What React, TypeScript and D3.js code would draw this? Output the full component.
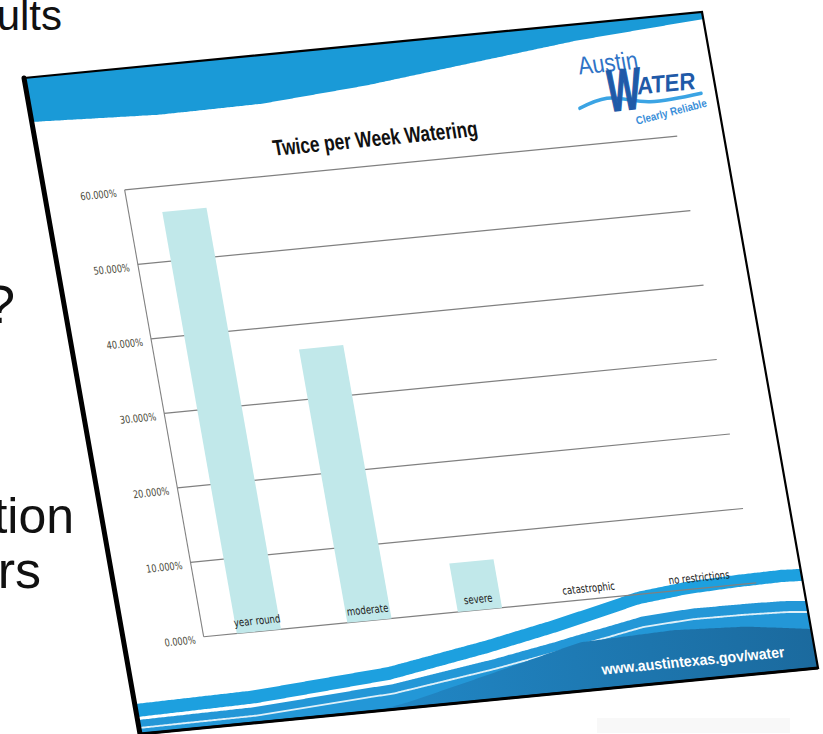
import React from 'react';
import * as d3 from 'd3';

// ---- chart data ----
const categories = ['year round', 'moderate', 'severe', 'catastrophic', 'no restrictions'];
const shares = [56.6, 36.7, 6.5, 0, 0];
const yTickValues = [0, 10, 20, 30, 40, 50, 60];
const chartTitle = 'Twice per Week Watering';
const siteUrl = 'www.austintexas.gov/water';

// ---- slide decoration outlines (slide-local units) ----
const topWaveX = [0, 161, 297, 434, 572, 711, 875];
const topWaveY = [44, 49, 48, 40, 28, 16, 7];
const waveX = [0, 154, 329, 461, 550, 617, 662, 728, 793, 849, 875];
const waveY = [626, 624, 614, 597, 583.5, 572, 564, 558.6, 556.7, 556, 557];
const gapX = [0, 300, 579, 700, 875];
const gapY = [16, 17, 22, 26, 32];
const darkX = [0, 200, 350, 450, 579, 700, 794, 875];
const darkY = [700, 670, 650, 632, 608, 605, 608.5, 617];
const swooshX = [698, 735, 789, 856];
const swooshY = [83, 75.7, 83.2, 79.8];

const SW = 875;
const SH = 656;
const MAT = [0.77486, -0.07543, 0.17683, 1, 24, 78];
const toScreen = (x: number, y: number) => [MAT[0] * x + MAT[2] * y + MAT[4], MAT[1] * x + MAT[3] * y + MAT[5]];

const PL = 102.6, PR = 815.7, PT = 119.6, PB = 566.5;

export default function App() {
  const x = d3.scaleBand<string>().domain(categories).range([PL, PR]).paddingInner(0.6).paddingOuter(0.3);
  const y = d3.scaleLinear().domain([0, 60]).range([PB, PT]);
  const fmt = (v: number) => d3.format('.3f')(v) + '%';

  const pw = (xs: number[], ys: number[]) => d3.scaleLinear().domain(xs).range(ys).clamp(true);
  const t1 = pw(waveX, waveY);
  const offA = pw([0, SW], [13, 12]);
  const gap = pw(gapX, gapY);
  const lineOff = pw([0, SW], [8, 11]);
  const dark = pw(darkX, darkY);
  const tw = pw(topWaveX, topWaveY);
  const xs = d3.range(-12, SW + 16, 4);

  const areaDown = (f: (v: number) => number) =>
    d3.area<number>().x(d => d).y0(d => f(d)).y1(SH + 30).curve(d3.curveBasis)(xs) || '';
  const topArea = d3.area<number>().x(d => d).y0(-10).y1(d => tw(d)).curve(d3.curveBasis)(xs) || '';
  const whiteLine = d3.line<number>().x(d => d).y(d => t1(d) + gap(d) + lineOff(d)).curve(d3.curveBasis)(xs) || '';
  const swoosh = d3.line<number>().x(d => d[0]).y(d => d[1]).curve(d3.curveCatmullRom)(
    swooshX.map((v, i) => [v, swooshY[i]]) as any) || '';

  const TL = toScreen(0, 0), TR = toScreen(SW, 0), BR = toScreen(SW, SH), BL = toScreen(0, SH);

  return (
    <svg width={823} height={734} style={{ position: 'absolute', left: 0, top: 0, background: '#fff' }}
      fontFamily="'Liberation Sans', Arial, sans-serif">
      <defs>
        <clipPath id="slideClip"><rect x={0} y={0} width={SW} height={SH} /></clipPath>
        <linearGradient id="darkGrad" gradientUnits="userSpaceOnUse" x1={150} y1={0} x2={875} y2={0}>
          <stop offset="0" stopColor="#2290d2" />
          <stop offset="1" stopColor="#1b6a9e" />
        </linearGradient>
      </defs>

      {/* background slide text */}
      <g fill="#111" fontFamily="'Liberation Sans', Arial, sans-serif">
        <text x={62} y={30} fontSize={42} textAnchor="end">ults</text>
        <text x={15} y={323} fontSize={54} textAnchor="end">?</text>
        <text x={74} y={533} fontSize={50} textAnchor="end">tion</text>
        <text x={41} y={588} fontSize={52} textAnchor="end">rs</text>
      </g>
      <rect x={597} y={718} width={193} height={15} fill="#f8f8f8" />

      <g transform={`matrix(${MAT.join(',')})`}>
        <g clipPath="url(#slideClip)">
          <rect x={0} y={0} width={SW} height={SH} fill="#fff" />
          <path d={topArea} fill="#1a9ad7" />
          <path d={areaDown(t1)} fill="#1da0df" />
          <path d={areaDown(v => t1(v) + offA(v))} fill="#fff" />
          <path d={areaDown(v => t1(v) + gap(v))} fill="#2397d7" />
          <path d={whiteLine} fill="none" stroke="#fff" strokeWidth={1.8} opacity={0.85} />
          <path d={areaDown(dark)} fill="url(#darkGrad)" />
          <text x={718} y={642} fontSize={15} fontWeight="bold" fill="#fff" textAnchor="middle"
            textLength={236} lengthAdjust="spacingAndGlyphs">{siteUrl}</text>

          {/* logo */}
          <text x={744} y={49.6} fontSize={25} fill="#2f73c6" textAnchor="middle"
            textLength={77} lengthAdjust="spacingAndGlyphs">Austin</text>
          <path d={swoosh} fill="none" stroke="#3ba4e4" strokeWidth={3.5} strokeLinecap="round" />
          <text x={758} y={88.8} fontSize={58} fontWeight="bold" fontStyle="italic" fill="#1f5aa8"
            stroke="#1f5aa8" strokeWidth={1.5}
            textAnchor="middle" textLength={43} lengthAdjust="spacingAndGlyphs">W</text>
          <text x={813} y={75} fontSize={24} fontWeight="bold" fontStyle="italic" fill="#1f5aa8"
            textAnchor="middle" textLength={75} lengthAdjust="spacingAndGlyphs">ATER</text>
          <text transform="translate(814,99) rotate(-7)" fontSize={11} fontWeight="bold" fill="#3b8fd9"
            textAnchor="middle" textLength={94} lengthAdjust="spacingAndGlyphs">Clearly Reliable</text>

          {/* chart */}
          <text x={432} y={100.5} fontSize={22} fontWeight="bold" fill="#111" textAnchor="middle"
            textLength={264} lengthAdjust="spacingAndGlyphs">{chartTitle}</text>
          {yTickValues.map(t => (
            <line key={'g' + t} x1={PL} x2={PR} y1={y(t)} y2={y(t)} stroke="#808080" strokeWidth={1.2} />
          ))}
          <line x1={PL} x2={PL} y1={PT} y2={PB} stroke="#808080" strokeWidth={1.4} />
          {categories.map((c, i) => (
            <rect key={c} x={x(c)} y={y(shares[i])} width={x.bandwidth()} height={PB - y(shares[i])} fill="#c1e8ea" />
          ))}
          {yTickValues.map(t => (
            <text key={'t' + t} x={PL - 11} y={y(t) + 6} fontSize={10.5} fill="#4a4a3a" textAnchor="end"
              fontFamily="'DejaVu Sans', sans-serif">{fmt(t)}</text>
          ))}
          {categories.map(c => (
            <text key={'c' + c} x={(x(c) as number) + x.bandwidth() / 2} y={PB - 7} fontSize={11} fill="#222"
              textAnchor="middle" fontFamily="'DejaVu Sans', sans-serif">{c}</text>
          ))}
        </g>
      </g>

      {/* slide border */}
      <polygon points={[TL, TR, BR, BL].map(p => p.join(',')).join(' ')} fill="none" stroke="#000" strokeWidth={2.2} />
      <line x1={TL[0]} y1={TL[1]} x2={BL[0]} y2={BL[1]} stroke="#000" strokeWidth={5} strokeLinecap="round" />
      <line x1={BL[0]} y1={BL[1]} x2={BR[0]} y2={BR[1]} stroke="#000" strokeWidth={3} />
    </svg>
  );
}
